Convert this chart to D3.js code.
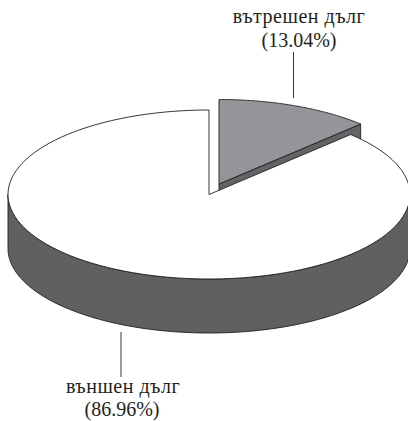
<!DOCTYPE html>
<html lang="bg">
<head>
<meta charset="UTF-8">
<title>Дълг</title>
<script src="https://d3js.org/d3.v7.min.js"></script>
<style>
    html, body { margin: 0; padding: 0; background: #fff; overflow: hidden; }
    svg { display: block; }
    text { font-family: "Liberation Serif", serif; font-size: 20px; fill: #231f20; text-anchor: middle; }
    .name { letter-spacing: 0.5px; }
</style>
</head>
<body>
<div id="chart"></div>
<script>
const categories = ["вътрешен дълг", "външен дълг"];
const values = [13.04, 86.96];
const valueLabels = ["(13.04%)", "(86.96%)"];
const fills = ["#939598", "#ffffff"];

const width = 408, height = 421;
const tau = 2 * Math.PI;
const rx = 201, ry = 84.5, depth = 54;

const svg = d3.select("#chart").append("svg")
    .attr("width", width)
    .attr("height", height);

const pie = d3.pie().sort(null)(values);

// the tilted view squeezes the first wedge a little
const view = d3.scaleLinear()
    .domain([0, pie[0].endAngle, tau])
    .range([0, 0.782, tau]);

// one projection per piece, the small wedge is pulled out up and right
const project = (cx, cy) => {
    const x = d3.scaleLinear().domain([-1, 1]).range([cx - rx, cx + rx]);
    const y = d3.scaleLinear().domain([-1, 1]).range([cy - ry, cy + ry]);
    return a => [x(Math.sin(view(a))), y(-Math.cos(view(a)))];
};
const mainRim = project(209, 194.5);
const sliceRim = project(219, 184);

const line = d3.line();
const steps = (a0, a1) => d3.range(0, 121).map(i => a0 + (a1 - a0) * i / 120);
const draw = (points, fill) => svg.append("path")
    .attr("d", line(points) + "Z")
    .attr("fill", fill)
    .attr("stroke", "#231f20")
    .attr("stroke-width", 0.9);
const down = p => [p[0], p[1] + depth];

// small wedge: cut face first, main pie covers most of it
const s = pie[0];
draw([[219, 184], sliceRim(s.endAngle), down(sliceRim(s.endAngle)), [219, 184 + depth]], "#636466");
draw([[219, 184], ...steps(s.startAngle, s.endAngle).map(sliceRim)], fills[0]);

// main pie: side wall, then top
const m = pie[1];
const front = steps(tau / 4, 3 * tau / 4).map(a => [209 + rx * Math.sin(a), 194.5 - ry * Math.cos(a)]);
draw([...front, ...front.slice().reverse().map(down)], "#5f6062");
draw([[209, 194.5], ...steps(m.startAngle, m.endAngle).map(mainRim)], fills[1]);

// leader lines
const leaders = [[293.5, 52, 98], [121, 332, 377]];
leaders.forEach(d => {
    svg.append("line")
        .attr("x1", d[0]).attr("x2", d[0])
        .attr("y1", d[1]).attr("y2", d[2])
        .attr("stroke", "#231f20").attr("stroke-width", 0.9);
});

// labels
svg.append("text").attr("class", "name").attr("x", 299).attr("y", 23).text(categories[0]);
svg.append("text").attr("x", 299).attr("y", 47).text(valueLabels[0]);
svg.append("text").attr("class", "name").attr("x", 123).attr("y", 393).text(categories[1]);
svg.append("text").attr("x", 122).attr("y", 416).text(valueLabels[1]);
</script>
</body>
</html>
